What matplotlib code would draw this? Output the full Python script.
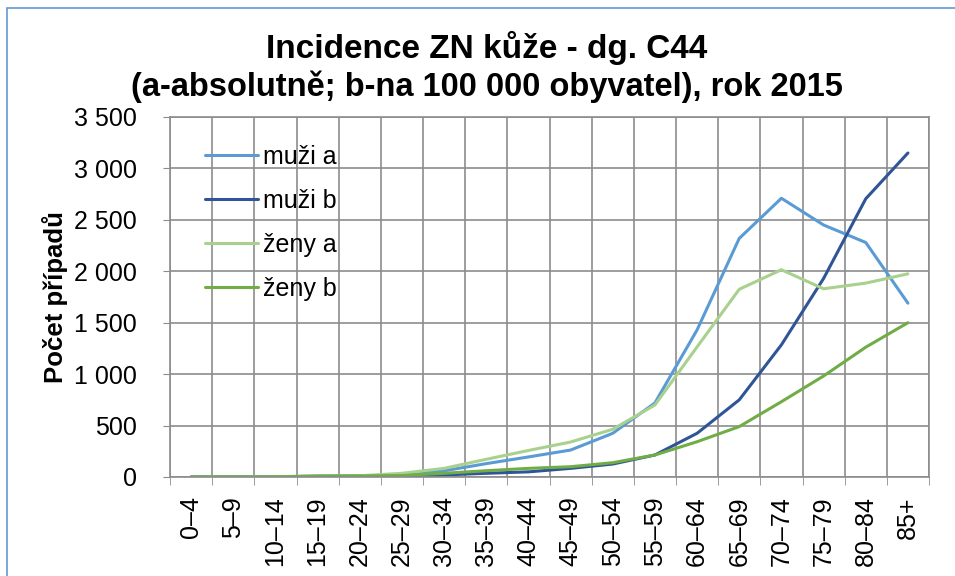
import matplotlib
matplotlib.use("Agg")
import matplotlib.pyplot as plt
from matplotlib.patches import Rectangle
import numpy as np

plt.rcParams['font.family'] = ['Liberation Sans', 'DejaVu Sans']

# age groups
vekove_skupiny = ["0–4", "5–9", "10–14", "15–19", "20–24", "25–29", "30–34", "35–39",
                  "40–44", "45–49", "50–54", "55–59", "60–64", "65–69", "70–74",
                  "75–79", "80–84", "85+"]

muzi_a = [0, 1, 3, 8, 10, 20, 60, 130, 195, 262, 425, 720, 1430, 2320, 2710, 2450, 2280, 1690]
muzi_b = [0, 1, 2, 7, 9, 12, 20, 36, 50, 84, 126, 214, 425, 750, 1285, 1930, 2705, 3150]
zeny_a = [0, 1, 3, 9, 12, 36, 84, 172, 258, 340, 464, 700, 1265, 1825, 2015, 1830, 1885, 1975]
zeny_b = [0, 1, 2, 8, 10, 14, 36, 61, 84, 100, 139, 214, 343, 490, 732, 982, 1262, 1500]

serie = [("muži a", muzi_a, "#5B9BD5"),
         ("muži b", muzi_b, "#2F5597"),
         ("ženy a", zeny_a, "#A9D18E"),
         ("ženy b", zeny_b, "#70AD47")]

fig = plt.figure(figsize=(9.55, 5.76), dpi=100)
ax = fig.add_axes([170/955, 1 - 477/576, (929 - 170)/955, (477 - 117)/576])

x = np.arange(len(vekove_skupiny))
for nazev, hodnoty, barva in serie:
    ax.plot(x, hodnoty, color=barva, lw=2.2, label=nazev, solid_capstyle='round')

ax.set_xlim(-0.5, len(vekove_skupiny) - 0.5)
ax.set_ylim(0, 3500)
ax.set_yticks(np.arange(0, 3501, 500))
ax.set_yticklabels(["{:,}".format(v).replace(",", " ") for v in range(0, 3501, 500)])
ax.set_xticks(x)
ax.set_xticklabels(vekove_skupiny, rotation=90)
ax.set_xticks(np.arange(-0.5, len(vekove_skupiny)), minor=True)

ax.tick_params(axis='x', which='major', length=0, pad=14, labelsize=18)
ax.tick_params(axis='x', which='minor', length=5.5, color='#8c8c8c', direction='out')
ax.tick_params(axis='y', length=5, color='#8c8c8c', labelsize=18, pad=19)

ax.grid(True, axis='y', color='#8c8c8c', lw=1.2)
ax.grid(True, axis='x', which='minor', color='#8c8c8c', lw=1.2)
ax.set_axisbelow(True)
for s in ax.spines.values():
    s.set_color('#8c8c8c')
    s.set_linewidth(1.2)

ax.set_ylabel("Počet případů", fontsize=18.5, fontweight='bold', labelpad=4)

leg = ax.legend(loc='upper left', bbox_to_anchor=(0.017, 0.985), frameon=False, fontsize=18,
                handlelength=2.1, handletextpad=0.2, labelspacing=0.8)

fig.text(487/955, 1 - 48/576, "Incidence ZN kůže - dg. C44", ha='center', va='center',
         fontsize=24, fontweight='bold')
fig.text(487/955, 1 - 87/576, "(a-absolutně; b-na 100 000 obyvatel), rok 2015", ha='center',
         va='center', fontsize=23.5, fontweight='bold')

fig.patches.append(Rectangle((7/955, -0.1), 1.2, 1 - 8/576 + 0.1, transform=fig.transFigure,
                             fill=False, edgecolor='#5B9BD5', lw=1.2))

fig.savefig("out.png", dpi=100)
